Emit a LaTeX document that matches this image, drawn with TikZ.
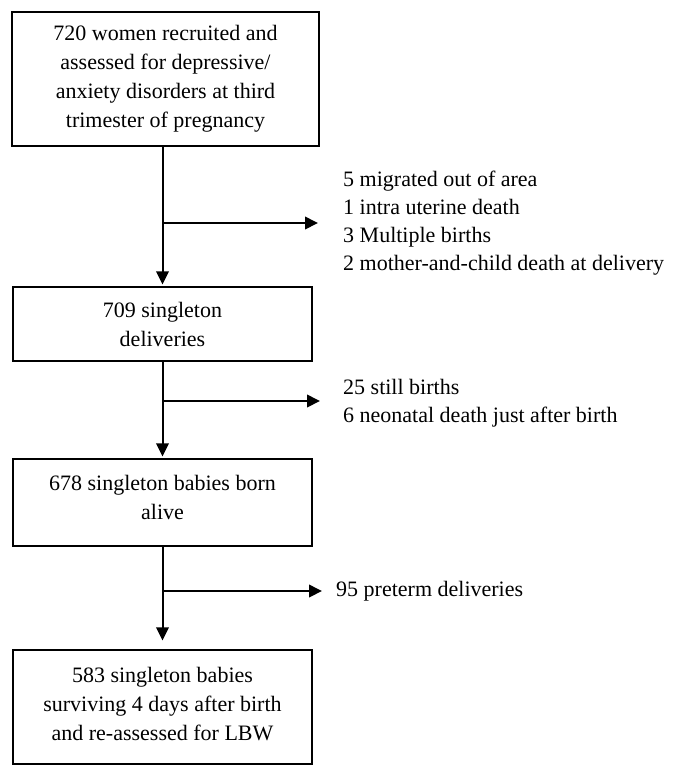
\documentclass[tikz,border=0pt]{standalone}
\usepackage{fontspec}
\setmainfont{Liberation Serif}
\usetikzlibrary{positioning,arrows.meta,calc}

\begin{document}
\begin{tikzpicture}[
    x=1pt, y=1pt,
    >={Triangle[length=13pt,width=12.5pt]},
    fbox/.style={draw, line width=1.3pt, inner sep=0pt, align=center,
                 minimum width=299pt, font=\fontsize{22}{29}\selectfont},
    side/.style={anchor=west, inner sep=0pt, align=left,
                 font=\fontsize{22}{28}\selectfont},
    arr/.style={->, line width=2pt},
]
\useasboundingbox (0,0) rectangle (685,-779);

\node[fbox, minimum width=307pt, minimum height=134pt] (rec) at (165.5,-79)
    {720 women recruited and\\assessed for depressive/\\anxiety disorders at third\\trimester of pregnancy};
\node[fbox, minimum height=74pt] (del) at (162.5,-324)
    {709 singleton\\deliveries};
\node[fbox, minimum height=87pt] (born) at (162.5,-502.5)
    {678 singleton babies born\\alive\\[-18pt]\mbox{}};
\node[fbox, minimum height=114pt] (surv) at (162.5,-707)
    {583 singleton babies\\surviving 4 days after birth\\and re-assessed for LBW\\[-22pt]\mbox{}};

\coordinate (j1) at (162.5,-223);
\coordinate (t1) at (318,-223);
\coordinate (j2) at (162.5,-401);
\coordinate (t2) at (320,-401);
\coordinate (j3) at (162.5,-591);
\coordinate (t3) at (322,-591);

\node[side] (out1) at (343,-223)
    {5 migrated out of area\\1 intra uterine death\\3 Multiple births\\2 mother-and-child death at delivery};
\node[side] (out2) at (343,-403)
    {25 still births\\6 neonatal death just after birth};
\node[side] (out3) at (336,-591) {95 preterm deliveries};

\draw[arr, shorten >=2pt] (rec.south -| del.north) -- (del.north);
\draw[arr, shorten >=2pt] (del.south) -- (born.north);
\draw[arr, shorten >=9pt] (born.south) -- (surv.north);
\draw[arr] (j1) -- (t1);
\draw[arr] (j2) -- (t2);
\draw[arr] (j3) -- (t3);
\end{tikzpicture}
\end{document}
